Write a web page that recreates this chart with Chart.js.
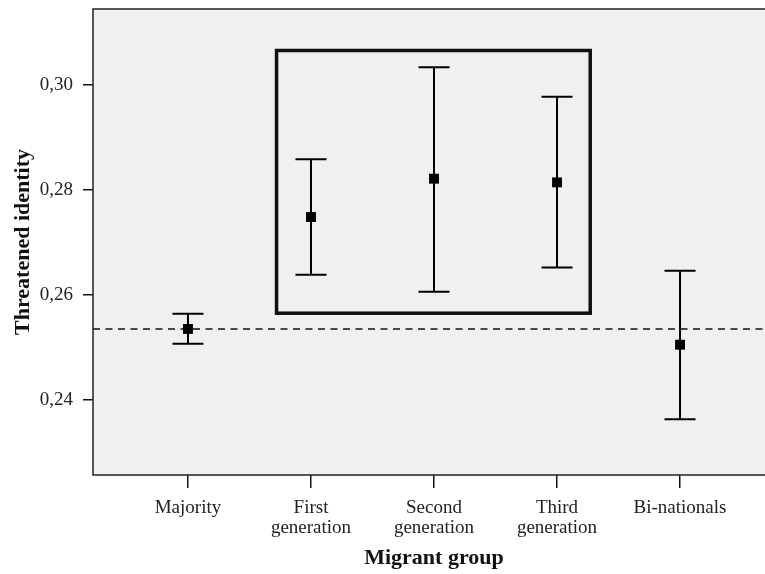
<!DOCTYPE html>
<html>
<head>
<meta charset="utf-8">
<script src="https://cdn.jsdelivr.net/npm/chart.js@4.4.1/dist/chart.umd.min.js"></script>
<style>
  html, body { margin: 0; padding: 0; background: #ffffff; overflow: hidden; }
  #wrap { width: 800px; height: 574px; }
</style>
</head>
<body>
<div id="wrap"><canvas id="c" width="800" height="574"></canvas></div>
<script>
// Migrant groups along the x axis (multi-line labels)
const categories = [
  ['Majority'],
  ['First', 'generation'],
  ['Second', 'generation'],
  ['Third', 'generation'],
  ['Bi-nationals']
];
// Mean threatened identity per group with 95% confidence bounds
const means = [0.2535, 0.2748, 0.2821, 0.2814, 0.2505];
const lower = [0.2507, 0.2638, 0.2606, 0.2652, 0.2363];
const upper = [0.2564, 0.2858, 0.3033, 0.2977, 0.2646];
// Reference level (majority mean) drawn as a dashed line
const referenceLevel = 0.2535;
// Y axis ticks
const yTicks = [0.24, 0.26, 0.28, 0.30];
// Highlight frame around the migrant generations (x in category units, y in data units)
const highlightX = [0.72, 3.27];
const highlightY = [0.2565, 0.3065];

const X_MIN = -0.772, X_MAX = 4.772;
const Y_MIN = 0.2257, Y_MAX = 0.3144;

const serif = '"Liberation Serif", "Times New Roman", serif';

const plotFrame = {
  id: 'plotFrame',
  beforeDraw(chart) {
    const { ctx, chartArea: a } = chart;
    ctx.save();
    ctx.fillStyle = '#f0f0f0';
    ctx.fillRect(a.left, a.top, a.right - a.left, a.bottom - a.top);
    ctx.restore();
  },
  beforeDatasetsDraw(chart) {
    const { ctx, scales: { x, y } } = chart;
    ctx.save();
    // confidence interval whiskers
    ctx.strokeStyle = '#000';
    ctx.lineWidth = 2;
    const cap = 15.5;
    means.forEach((m, i) => {
      const px = x.getPixelForValue(i);
      const yl = y.getPixelForValue(lower[i]);
      const yu = y.getPixelForValue(upper[i]);
      ctx.beginPath();
      ctx.moveTo(px, yl); ctx.lineTo(px, yu);
      ctx.moveTo(px - cap, yl); ctx.lineTo(px + cap, yl);
      ctx.moveTo(px - cap, yu); ctx.lineTo(px + cap, yu);
      ctx.stroke();
    });
    // highlight frame
    const l = x.getPixelForValue(highlightX[0]);
    const r = x.getPixelForValue(highlightX[1]);
    const t = y.getPixelForValue(highlightY[1]);
    const b = y.getPixelForValue(highlightY[0]);
    ctx.lineWidth = 3.5;
    ctx.strokeStyle = '#111';
    ctx.strokeRect(l, t, r - l, b - t);
    ctx.restore();
  },
  afterDraw(chart) {
    const { ctx, chartArea: a } = chart;
    ctx.save();
    ctx.strokeStyle = '#222';
    ctx.lineWidth = 1.5;
    ctx.strokeRect(a.left, a.top, a.right - a.left, a.bottom - a.top);
    ctx.restore();
  }
};

new Chart(document.getElementById('c'), {
  type: 'scatter',
  data: {
    datasets: [
      {
        type: 'line',
        data: [{ x: X_MIN, y: referenceLevel }, { x: X_MAX, y: referenceLevel }],
        borderColor: '#111',
        borderWidth: 1.6,
        borderDash: [7, 5.5],
        pointRadius: 0,
        fill: false,
        order: 2
      },
      {
        data: means.map((m, i) => ({ x: i, y: m })),
        pointStyle: 'rect',
        pointRadius: 7,
        pointHoverRadius: 7,
        pointBackgroundColor: '#000',
        pointBorderWidth: 0,
        order: 1
      }
    ]
  },
  options: {
    responsive: false,
    animation: false,
    events: [],
    layout: { padding: { top: 9, right: 25, left: 0, bottom: 0 } },
    plugins: { legend: { display: false }, tooltip: { enabled: false } },
    scales: {
      x: {
        type: 'linear',
        min: X_MIN,
        max: X_MAX,
        afterBuildTicks(scale) { scale.ticks = categories.map((c, i) => ({ value: i })); },
        afterFit(scale) { scale.height = 99; scale.paddingLeft = 0; scale.paddingRight = 0; },
        grid: { drawOnChartArea: false, drawTicks: true, tickLength: 13, color: '#111', lineWidth: 1.5 },
        border: { display: false },
        ticks: {
          padding: 10,
          maxRotation: 0,
          autoSkip: false,
          color: '#222',
          font: { family: serif, size: 19, lineHeight: 1.05 },
          callback: (v) => categories[Math.round(v)]
        },
        title: {
          display: true,
          text: 'Migrant group',
          color: '#111',
          font: { family: serif, size: 22, weight: 'bold' },
          padding: { top: 0, bottom: 2 }
        }
      },
      y: {
        min: Y_MIN,
        max: Y_MAX,
        afterBuildTicks(scale) { scale.ticks = yTicks.map(v => ({ value: v })); },
        afterFit(scale) { scale.width = 93; scale.paddingTop = 0; scale.paddingBottom = 0; },
        grid: { drawOnChartArea: false, drawTicks: true, tickLength: 10, color: '#111', lineWidth: 1.5 },
        border: { display: false },
        ticks: {
          padding: 10,
          color: '#222',
          font: { family: serif, size: 19 },
          callback: (v) => v.toFixed(2).replace('.', ',')
        },
        title: {
          display: true,
          text: 'Threatened identity',
          color: '#111',
          font: { family: serif, size: 22, weight: 'bold' },
          padding: { top: 10, bottom: 0 }
        }
      }
    }
  },
  plugins: [plotFrame]
});
</script>
</body>
</html>
